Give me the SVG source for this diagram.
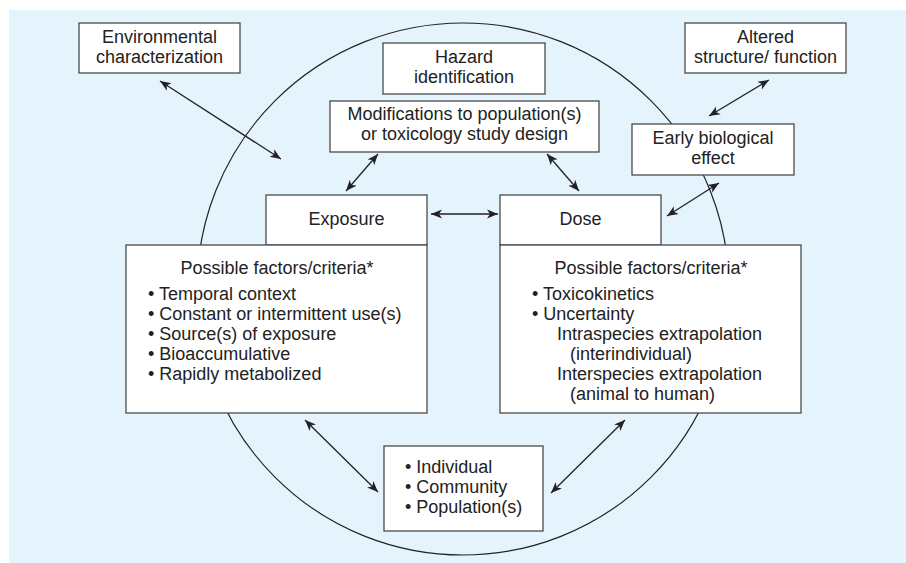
<svg xmlns="http://www.w3.org/2000/svg" width="906" height="563" viewBox="0 0 906 563">
<style>
.bg{fill:#e5f4fc}
.box{fill:#fff;stroke:#4a4a4a;stroke-width:1.3}
.ring{fill:none;stroke:#222;stroke-width:1.2}
.t{font-family:"Liberation Sans",Arial,sans-serif;font-size:18px;fill:#222}
.c{text-anchor:middle}
.con line{stroke:#222;stroke-width:1.3;marker-start:url(#ah);marker-end:url(#ah)}
</style>
<defs>
<marker id="ah" markerUnits="userSpaceOnUse" markerWidth="12" markerHeight="10" refX="11" refY="4.5" orient="auto-start-reverse" viewBox="0 0 12 9">
<path d="M0,0 L11,4.5 L0,9 L3,4.5 z" fill="#222"/>
</marker>
</defs>
<rect class="bg" x="9" y="10" width="897" height="553"/>
<circle class="ring" cx="463" cy="289" r="266"/>
<g class="con" id="connectors">
<line x1="160" y1="81" x2="281" y2="159"/>
<line x1="378" y1="154" x2="346" y2="191"/>
<line x1="547" y1="154" x2="579" y2="191"/>
<line x1="769" y1="80" x2="709" y2="116"/>
<line x1="719" y1="183" x2="667" y2="216"/>
<line x1="431" y1="214" x2="498" y2="214"/>
<line x1="305" y1="420" x2="378" y2="492"/>
<line x1="625" y1="420" x2="551" y2="493"/>
</g>
<g id="environmental">
<rect class="box" x="79" y="23" width="161" height="50"/>
<text class="t c" x="159.5" y="43">Environmental</text>
<text class="t c" x="159.5" y="63">characterization</text>
</g>
<g id="hazard">
<rect class="box" x="383" y="43" width="162" height="51"/>
<text class="t c" x="464" y="63">Hazard</text>
<text class="t c" x="464" y="83">identification</text>
</g>
<g id="modifications">
<rect class="box" x="330" y="101" width="269" height="51"/>
<text class="t c" x="464.5" y="120">Modifications to population(s)</text>
<text class="t c" x="464.5" y="140">or toxicology study design</text>
</g>
<g id="altered">
<rect class="box" x="685" y="23" width="161" height="50"/>
<text class="t c" x="765.5" y="43">Altered</text>
<text class="t c" x="765.5" y="63">structure/ function</text>
</g>
<g id="early">
<rect class="box" x="632" y="124" width="162" height="51"/>
<text class="t c" x="713" y="144">Early biological</text>
<text class="t c" x="713" y="164">effect</text>
</g>
<g id="exposure">
<rect class="box" x="266" y="195" width="161" height="50"/>
<text class="t c" x="346.5" y="225">Exposure</text>
</g>
<g id="exposure-factors">
<rect class="box" x="126" y="245" width="301" height="168"/>
<text class="t c" x="277" y="274">Possible factors/criteria*</text>
<text class="t" x="148" y="300">• Temporal context</text>
<text class="t" x="148" y="320">• Constant or intermittent use(s)</text>
<text class="t" x="148" y="340">• Source(s) of exposure</text>
<text class="t" x="148" y="360">• Bioaccumulative</text>
<text class="t" x="148" y="380">• Rapidly metabolized</text>
</g>
<g id="dose">
<rect class="box" x="500" y="195" width="161" height="50"/>
<text class="t c" x="580.5" y="225">Dose</text>
</g>
<g id="dose-factors">
<rect class="box" x="500" y="245" width="301" height="168"/>
<text class="t c" x="651" y="274">Possible factors/criteria*</text>
<text class="t" x="532" y="300">• Toxicokinetics</text>
<text class="t" x="532" y="320">• Uncertainty</text>
<text class="t" x="557" y="340">Intraspecies extrapolation</text>
<text class="t" x="570" y="360">(interindividual)</text>
<text class="t" x="557" y="380">Interspecies extrapolation</text>
<text class="t" x="570" y="400">(animal to human)</text>
</g>
<g id="population">
<rect class="box" x="384" y="446" width="159" height="85"/>
<text class="t" x="405" y="473">• Individual</text>
<text class="t" x="405" y="493">• Community</text>
<text class="t" x="405" y="513">• Population(s)</text>
</g>
</svg>
